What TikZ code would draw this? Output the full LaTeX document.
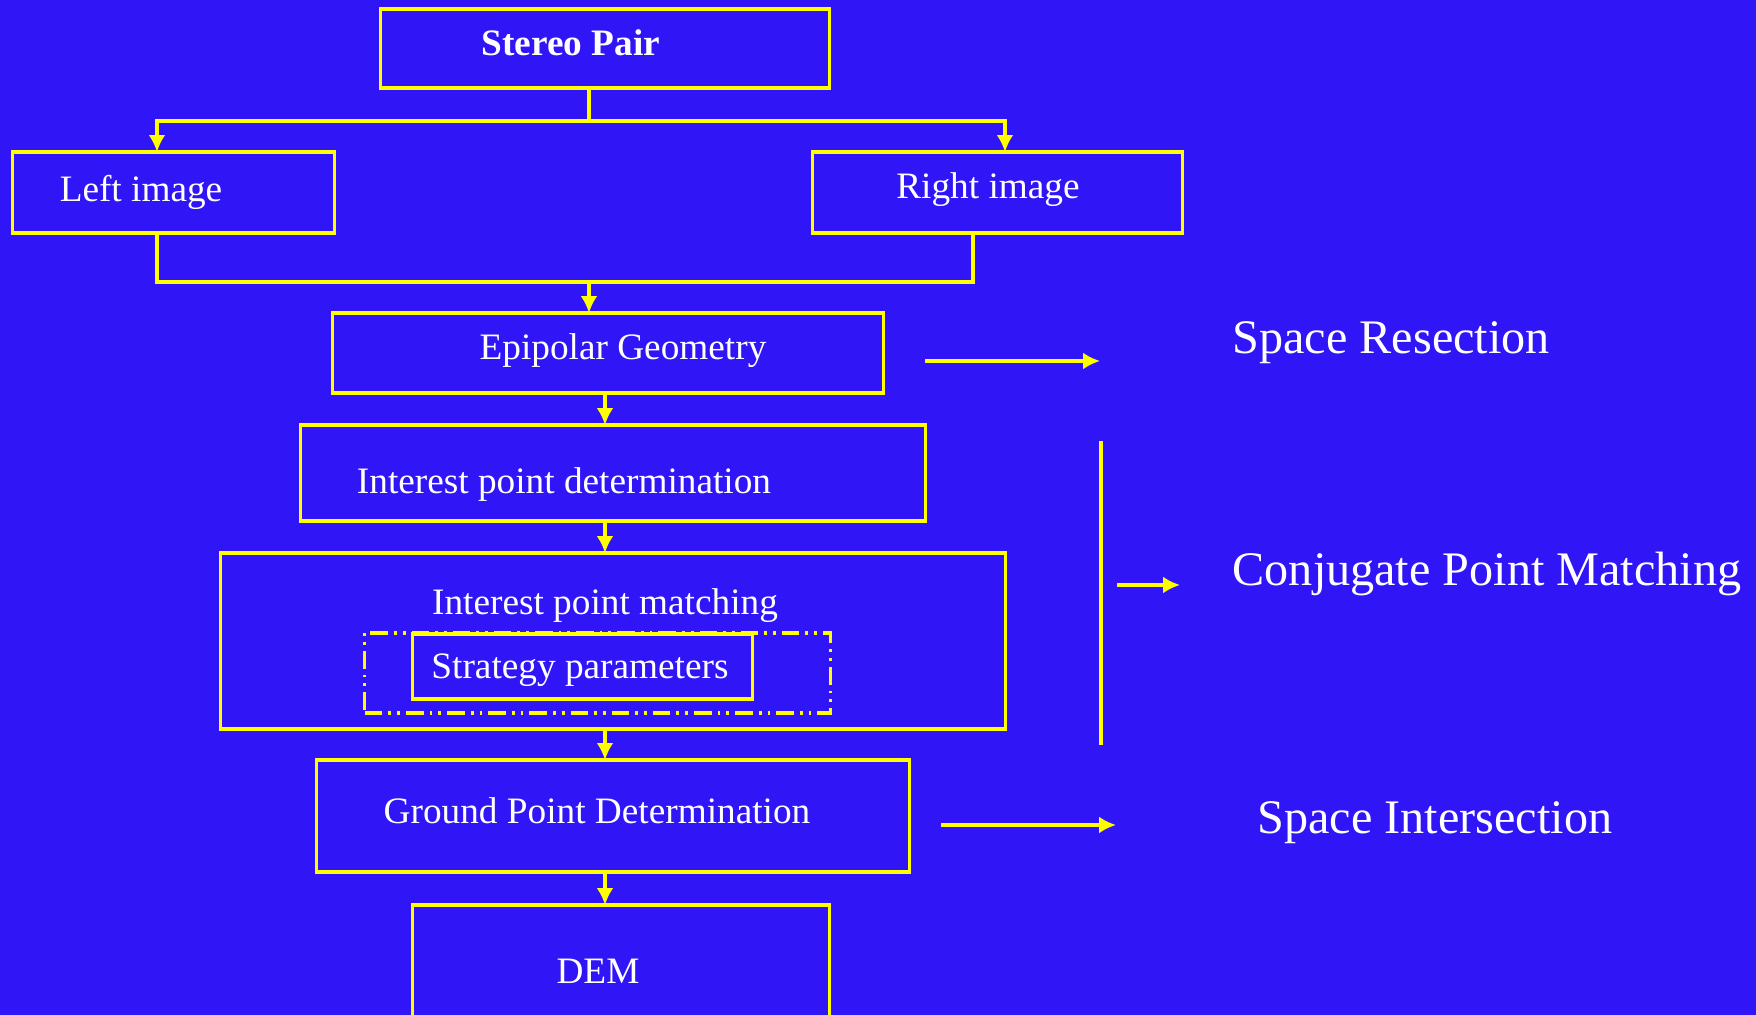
\documentclass[tikz,border=0pt]{standalone}
\usepackage{fontspec}
\setmainfont{Liberation Serif}
\usetikzlibrary{arrows.meta}

\definecolor{slideblue}{RGB}{48,22,246}
\definecolor{lineyellow}{RGB}{255,255,0}

\tikzset{
  stepbox/.style={rectangle,draw=lineyellow,line width=0.9pt,inner sep=0pt,outer sep=0pt},
  dashbox/.style={stepbox,dash pattern=on 5pt off 1.7pt on 0.8pt off 1.7pt on 0.8pt off 1.7pt},
  boxtext/.style={text=white,inner sep=0pt,anchor=base,font=\fontsize{10.6}{12}\selectfont},
  sidetext/.style={text=white,inner sep=0pt,anchor=base west,font=\fontsize{13.7}{16}\selectfont},
  flow/.style={draw=lineyellow,line width=0.9pt},
}

\begin{document}
\begin{tikzpicture}[x=0.01cm,y=-0.01cm,>={Latex[length=4.8pt,width=4.8pt]}]
\useasboundingbox (0,0) rectangle (1756,1015);
\clip (0,0) rectangle (1756,1015);
\fill[slideblue] (0,0) rectangle (1756,1015);

% boxes
\node[stepbox,minimum width=4.48cm,minimum height=0.79cm] (pair) at (605,48.5) {};
\node[stepbox,minimum width=3.21cm,minimum height=0.81cm] (left) at (173.5,192.5) {};
\node[stepbox,minimum width=3.69cm,minimum height=0.81cm] (right) at (997.5,192.5) {};
\node[stepbox,minimum width=5.50cm,minimum height=0.80cm] (epi) at (608,353) {};
\node[stepbox,minimum width=6.24cm,minimum height=0.96cm] (ipd) at (613,473) {};
\node[stepbox,minimum width=7.84cm,minimum height=1.76cm] (ipm) at (613,641) {};
\node[dashbox,minimum width=4.65cm,minimum height=0.80cm] (params) at (597.5,673) {};
\node[stepbox,minimum width=3.39cm,minimum height=0.65cm] (strat) at (582.5,666.5) {};
\node[stepbox,minimum width=5.92cm,minimum height=1.12cm] (gpd) at (613,816) {};
\node[stepbox,minimum width=4.16cm,minimum height=1.25cm] (dem) at (621,967.5) {};

% box texts
\node[boxtext,font=\fontsize{10.6}{12}\selectfont\bfseries] (pairtxt) at (571,55) {Stereo Pair};
\node[boxtext] (lefttxt) at (141,201) {Left image};
\node[boxtext] (righttxt) at (988,199) {Right image};
\node[boxtext] (epitxt) at (623,359) {Epipolar Geometry};
\node[boxtext] (ipdtxt) at (564,493) {Interest point determination};
\node[boxtext] (ipmtxt) at (605,614) {Interest point matching};
\node[boxtext] (strattxt) at (580,678) {Strategy parameters};
\node[boxtext] (gpdtxt) at (597,823) {Ground Point Determination};
\node[boxtext] (demtxt) at (598,983) {DEM};

% side labels
\node[sidetext] (resect) at (1232,353) {Space Resection};
\node[sidetext] (conj) at (1232,585) {Conjugate Point Matching};
\node[sidetext] (inter) at (1257,833) {Space Intersection};

% split and merge
\path (589,121) coordinate (split) (157,121) coordinate (splitl) (1005,121) coordinate (splitr)
(157,282) coordinate (joinl) (973,282) coordinate (joinr) (589,282) coordinate (join)
(605,0) coordinate (col);
\draw[flow] (pair.south -| split) -- (split);
\draw[flow,<->] (left.north -| splitl) -- (splitl) -- (splitr) -- (right.north -| splitr);
\draw[flow] (left.south -| joinl) -- (joinl) -- (joinr) -- (right.south -| joinr);
\draw[flow,->] (join) -- (epi.north -| join);

% main column
\foreach \a/\b in {epi/ipd,ipd/ipm,ipm/gpd,gpd/dem}
  \draw[flow,->] (\a.south -| col) -- (\b.north -| col);

% side arrows
\path (925,361) coordinate (resa) (1100,361) coordinate (resb)
(1101,441) coordinate (bart) (1101,745) coordinate (barb)
(1117,585) coordinate (conja) (1180,585) coordinate (conjb)
(941,825) coordinate (intera) (1116,825) coordinate (interb);
\draw[flow,->] (resa) -- (resb);
\draw[flow] (bart) -- (barb);
\draw[flow,->] (conja) -- (conjb);
\draw[flow,->] (intera) -- (interb);

\end{tikzpicture}
\end{document}
